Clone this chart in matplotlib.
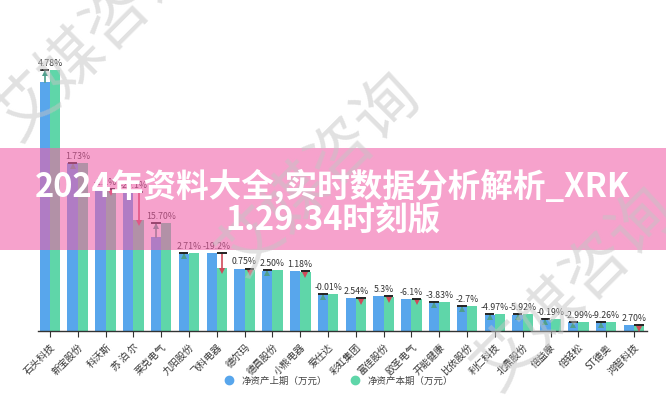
import matplotlib
matplotlib.use('Agg')
import matplotlib.pyplot as plt
from matplotlib.patches import Rectangle
from matplotlib.lines import Line2D
import matplotlib.transforms as mtransforms
import numpy as np

plt.rcParams['font.family'] = ['Noto Sans CJK SC', 'DejaVu Sans']

categories = ['石头科技', '新宝股份', '科沃斯', '苏 泊 尔', '莱克电气', '九阳股份', '飞科电器',
              '德尔玛', '德昌股份', '小熊电器', '爱仕达', '彩虹集团', '富佳股份', '欧圣电气',
              '开能健康', '比依股份', '利仁科技', '北鼎股份', '倍益康', '倍轻松', 'ST德奥', '鸿智科技']
prev_vals = [2490000, 1677000, 1420000, 1390000, 940000, 770000, 780000, 625000, 600000, 600000,
             365000, 335000, 350000, 320000, 283000, 240000, 160000, 163000, 110000, 90000, 83000, 60000]
curr_vals = [2610000, 1683000, 1410000, 1110000, 1080000, 780000, 630000, 610000, 610000, 595000,
             375000, 325000, 343000, 319000, 287000, 250000, 175000, 167000, 117000, 93000, 90000, 50000]
pct_labels = ['4.78%', '1.73%', '-1.1%', '-20.1%', '15.70%', '2.71%', '-19.2%', '0.75%', '2.50%', '1.18%',
              '-0.01%', '2.54%', '5.3%', '-6.1%', '-3.83%', '-2.7%', '-4.97%', '-5.92%', '-0.19%',
              '-2.99%', '-9.26%', '2.70%']
legend_labels = ['净资产上期（万元）', '净资产本期（万元）']
banner_lines = ['2024年资料大全,实时数据分析解析_XRK', '1.29.34时刻版']
watermark = '艾媒咨询'

BLUE = '#58a6ec'
GREEN = '#5fd6a9'
UP = '#4f9f8c'
DOWN = '#cf4a5a'

fig = plt.figure(figsize=(6.66, 4), dpi=100)
ax = fig.add_axes([38/666, 69/400, 609/666, 276/400])
x = np.arange(len(categories))
w = 0.37
ax.bar(x - w/2, prev_vals, w, color=BLUE, zorder=2)
ax.bar(x + w/2, curr_vals, w, color=GREEN, zorder=2)
ax.set_xlim(-0.43, len(categories) - 1 + 0.47)
ax.set_ylim(0, 2760000)

for s in ['top', 'right', 'left']:
    ax.spines[s].set_visible(False)
ax.spines['bottom'].set_color('#333333')
ax.spines['bottom'].set_linewidth(1.0)
ax.set_yticks([])
ax.set_xticks(x)
ax.set_xticklabels(categories, rotation=45, ha='right', rotation_mode='anchor',
                   fontsize=7, color='#333333')
ax.tick_params(axis='x', length=4, color='#333333', pad=4)

down_shift = mtransforms.offset_copy(ax.transData, fig=fig, x=0, y=-3, units='dots')
lab_shift = mtransforms.offset_copy(ax.transData, fig=fig, x=0, y=2, units='dots')
for i in range(len(categories)):
    p, c = prev_vals[i], curr_vals[i]
    top = max(p, c)
    up = c > p
    xa = x[i] - w/2 if up else x[i] + w/2
    col = UP if up else DOWN
    ax.plot([xa, xa], [p, c], color=col, lw=1.2, zorder=4)
    ax.plot([xa], [c], marker='^' if up else 'v', ms=5, color=col, zorder=4,
            transform=down_shift, markeredgewidth=0)
    ax.plot([xa - w*0.45, xa + w*0.45], [top, top], color='#222222', lw=1.4, zorder=5,
            solid_capstyle='butt')
    ax.text(x[i], top, pct_labels[i], ha='center', va='bottom', fontsize=6.3,
            color='#333333', transform=lab_shift, zorder=5)

handles = [Line2D([], [], marker='o', ls='none', ms=6, color=BLUE),
           Line2D([], [], marker='o', ls='none', ms=6, color=GREEN)]
fig.legend(handles, legend_labels, loc='center', bbox_to_anchor=(336/666, 1 - 381/400),
           ncol=2, frameon=False, fontsize=6.8, handletextpad=0.3, columnspacing=2.0,
           labelcolor='#444444')

# watermark
for (cx, cy) in [(95, 40), (320, 175), (575, 290)]:
    fig.text(cx/666, 1 - cy/400, watermark, rotation=45, ha='center', va='center',
             fontsize=46, color='#c4c4c4', alpha=0.5, fontweight='light', zorder=20)

# pink banner overlay
fig.add_artist(Rectangle((0, 1 - 250/400), 1, 102/400, transform=fig.transFigure,
                         facecolor=(240/255, 95/255, 167/255), alpha=0.58, edgecolor='none', zorder=10))
fig.text(0.5, 1 - 186/400, banner_lines[0], ha='center', va='center', fontsize=23.5,
         fontweight='bold', color='white', zorder=30)
fig.text(0.5, 1 - 221/400, banner_lines[1], ha='center', va='center', fontsize=23.5,
         fontweight='bold', color='white', zorder=30)

fig.savefig('out.png', dpi=100)
